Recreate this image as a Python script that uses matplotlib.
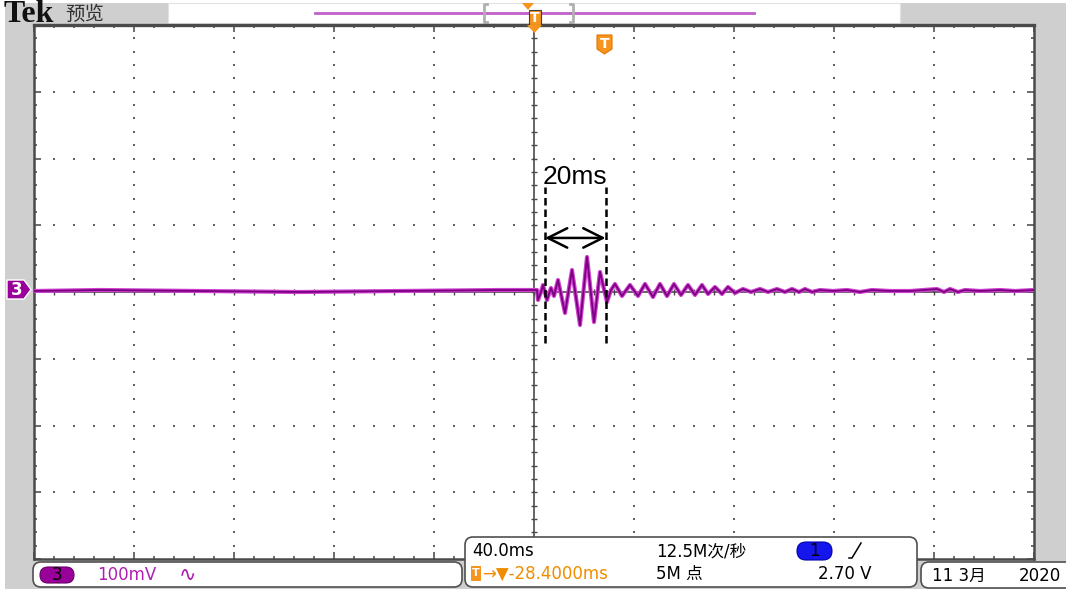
import matplotlib

matplotlib.use('Agg')
import matplotlib.pyplot as plt
from matplotlib.patches import Rectangle, FancyBboxPatch, Polygon
import numpy as np

# Scope settings: 40 ms/div, 100 mV/div, 10 x 8 divisions
time_per_div = 40.0
volt_per_div = 100.0

# Channel 3 trace (ms, mV)
trace_t = [-200, -173.6, -133.6, -93.6, -53.6, -13.6, -1.6, 1.2,
           1.6, 2.8, 3.6, 5.2, 6.8, 8.0, 9.6, 12.4, 15.2, 18.4, 21.2, 24.0,
           26.4, 29.2, 30.8, 32.4, 35.2, 38.4, 41.6, 44.4, 47.6, 50.4, 53.2,
           56.0, 58.8, 61.6, 64.4, 67.2, 69.6, 72.4, 75.2, 77.6, 80.4, 83.6,
           86.8, 90.4, 93.6, 97.2, 100.4, 103.2, 106.0, 108.4, 111.2, 114.4,
           119.6, 125.2, 130.4, 135.2, 142.4, 150.4, 161.2, 164.0, 166.4,
           169.6, 172.4, 178.4, 186.4, 192.4, 200]
trace_v = [1.5, 3.0, 1.5, 0.0, 1.5, 3.0, 3.0, 3.0,
           -12, 0, 10.5, -12, 6, -6, 18, -31.5, 33, -49.5, 52.5, -45,
           30, -15, 3, 12, -6, 10.5, -6, 12, -7.5, 12, -6,
           12, -4.5, 10.5, -4.5, 10.5, -3, 7.5, -3, 7.5, -1.5, 4.5,
           0, 4.5, 0, 4.5, 0, 4.5, 0, 4.5, 0, 3,
           1.5, 3, 0, 3, 1.5, 1.5, 4.5, 0, 4.5,
           0, 3, 1.5, 3, 1.5, 3]

# Hand-drawn measurement marks (ms, mV)
mark_t = [4.4, 28.6]
mark_v = [-76.5, 157.5]
arrow_v = 81
mark_label = '20ms'

# Readout texts
ch_label = '3'
ch_scale = '100mV'
time_scale = '40.0ms'
sample_rate = '12.5M次/秒'
trig_src = '1'
trig_pos = '→▼-28.4000ms'
rec_len = '5M 点'
trig_level = '2.70 V'
date_day = '11 3月'
date_year = '2020'

W, H = 1066, 589
fig = plt.figure(figsize=(W / 100, H / 100), dpi=100)

CJK = ['DejaVu Sans', 'Noto Sans CJK SC']
ORANGE = '#f7941d'
PURPLE = '#990099'
FS = 12

# ---- background chrome (pixel coordinates) ----
bg = fig.add_axes([0, 0, 1, 1], zorder=0)
bg.set_xlim(0, W)
bg.set_ylim(H, 0)
bg.axis('off')
bg.add_patch(Rectangle((5, 3), W - 5, H - 3, fc='#cfcfcf', ec='none'))
bg.add_patch(Rectangle((168, 3), 732, 20, fc='white', ec='#e2e2e2', lw=0.8))
bg.plot([315, 754], [12.5, 12.5], color='#c060c8', lw=2)
bg.plot([487, 484, 484, 487], [4, 4, 22, 22], color='#b0b0b0', lw=2)
bg.plot([570, 573, 573, 570], [4, 4, 22, 22], color='#b0b0b0', lw=2)
bg.text(4, 14, 'Tek', fontsize=23, fontweight='bold', family='Liberation Serif',
        va='center', ha='left', color='#111111')
bg.text(65, 14.5, '预览', fontsize=14, family='Noto Sans CJK SC',
        va='center', ha='left', color='#333333')

# ---- scope graticule ----
ax = fig.add_axes([34 / W, (H - 559) / H, 1000 / W, 534 / H], zorder=1)
xmax = 5 * time_per_div
ymax = 4 * volt_per_div
ax.set_xlim(-xmax, xmax)
ax.set_ylim(-ymax, ymax)
ax.set_facecolor('white')

xmaj = np.arange(-xmax, xmax + 1, time_per_div)
xmin = np.arange(-xmax, xmax + 1, time_per_div / 5)
ymaj = np.arange(-ymax, ymax + 1, volt_per_div)
ymin = np.arange(-ymax, ymax + 1, volt_per_div / 5)
ax.set_xticks(xmaj)
ax.set_xticks(xmin, minor=True)
ax.set_yticks(ymaj)
ax.set_yticks(ymin, minor=True)
ax.tick_params(which='both', direction='in', top=True, right=True,
               labelbottom=False, labelleft=False, color='#606060', width=1.3)
ax.tick_params(which='major', length=5)
ax.tick_params(which='minor', length=2.5)
for side, s in ax.spines.items():
    s.set_color('#4a4a4a')
    s.set_linewidth(2.4 if side == 'top' else 1.8)

# dotted grid lines
for x in xmaj[1:-1]:
    if x != 0:
        ax.scatter(np.full(len(ymin), x), ymin, marker='s', s=1.8,
                   color='#606060', lw=0, zorder=1)
for y in ymaj[1:-1]:
    if y != 0:
        ax.scatter(xmin, np.full(len(xmin), y), marker='s', s=1.8,
                   color='#606060', lw=0, zorder=1)

# center cross with minor ticks
ax.axhline(0, color='#4a4a4a', lw=1.2, zorder=2)
ax.axvline(0, color='#4a4a4a', lw=1.2, zorder=2)
ax.scatter(xmin, np.zeros(len(xmin)), marker='|', s=18, color='#4a4a4a',
           lw=1, zorder=2)
ax.scatter(np.zeros(len(ymin)), ymin, marker='_', s=18, color='#4a4a4a',
           lw=1, zorder=2)

# waveform
ax.plot(trace_t, trace_v, color='#d040d0', lw=3.0, zorder=3,
        solid_joinstyle='round')
ax.plot(trace_t, trace_v, color='#7a0080', lw=1.3, zorder=4,
        solid_joinstyle='round')

# measurement marks
for t in mark_t:
    ax.plot([t, t], mark_v, color='black', lw=1.8, dashes=(3, 1.6), zorder=5)
ax.annotate('', xy=(mark_t[0], arrow_v), xytext=(mark_t[1], arrow_v),
            arrowprops=dict(arrowstyle='<->,head_length=0.7,head_width=0.35',
                            lw=1.8, color='black', shrinkA=0, shrinkB=0,
                            mutation_scale=20), zorder=5)
ax.text(sum(mark_t) / 2, 172, mark_label, ha='center', va='center',
        fontsize=19, family='Liberation Sans', zorder=5)

# ---- foreground readouts (pixel coordinates) ----
fg = fig.add_axes([0, 0, 1, 1], zorder=3)
fg.set_xlim(0, W)
fg.set_ylim(H, 0)
fg.axis('off')
fg.patch.set_alpha(0)

# trigger markers
fg.add_patch(Polygon([(522, 3), (534, 3), (528, 10)], fc=ORANGE, ec='none'))
fg.add_patch(Rectangle((528.5, 9.5), 12, 15, fc=ORANGE, ec='#404040', lw=0.8))
fg.text(534.5, 17.5, 'T', color='white', fontsize=10, fontweight='bold',
        ha='center', va='center')
fg.add_patch(Polygon([(527, 25), (542, 25), (534.5, 33)], fc=ORANGE, ec='none'))
fg.add_patch(Polygon([(597, 35), (612, 35), (612, 49), (604.5, 54), (597, 49)],
                     fc=ORANGE, ec='#e07800', lw=0.8))
fg.text(604.5, 43.5, 'T', color='white', fontsize=10, fontweight='bold',
        ha='center', va='center')

# channel marker on the left
fg.add_patch(Polygon([(7, 280), (24, 280), (31, 289.5), (24, 299), (7, 299)],
                     fc=PURPLE, ec='white', lw=1))
fg.text(16.5, 290, ch_label, color='white', fontsize=12, fontweight='bold',
        ha='center', va='center')

# bottom readout boxes
box_kw = dict(boxstyle='round,pad=0,rounding_size=8', fc='white',
              ec='#505050', lw=1.2)
fg.add_patch(FancyBboxPatch((33, 562), 429, 25, **box_kw))
fg.add_patch(FancyBboxPatch((465, 537), 452, 50, **box_kw))
fg.add_patch(FancyBboxPatch((921, 562), 170, 26, **box_kw))

fg.add_patch(FancyBboxPatch((40, 567), 34, 16, boxstyle='round,pad=0,rounding_size=8',
                            fc=PURPLE, ec='#660066', lw=0.8))
fg.text(57, 575.5, ch_label, fontsize=FS, ha='center', va='center', color='black')
fg.text(97, 575.5, ch_scale, fontsize=FS, ha='left', va='center', color='#b020b0')
fg.text(179, 575, '∿', fontsize=15, ha='left', va='center', color='#b020b0',
        family=['DejaVu Sans', 'DejaVu Sans Mono', 'Noto Sans CJK SC'])

fg.text(472, 551, time_scale, fontsize=FS, ha='left', va='center', color='black')
fg.text(656, 551, sample_rate, fontsize=FS, ha='left', va='center', color='black',
        family=CJK)
fg.add_patch(FancyBboxPatch((797, 542), 35, 18, boxstyle='round,pad=0,rounding_size=9',
                            fc='#1515ee', ec='#0000aa', lw=0.8))
fg.text(814.5, 551.5, trig_src, fontsize=FS, ha='center', va='center', color='black')
fg.plot([849, 852, 861], [558, 558, 543], color='black', lw=1.1)

fg.add_patch(Rectangle((471, 566), 10, 15, fc=ORANGE, ec='none'))
fg.text(476, 573.5, 'T', fontsize=8, fontweight='bold', ha='center', va='center',
        color='white')
fg.text(482, 574, trig_pos, fontsize=FS, ha='left', va='center', color='#f08c00')
fg.text(656, 574, rec_len, fontsize=FS, ha='left', va='center', color='black',
        family=CJK)
fg.text(818, 574, trig_level, fontsize=FS, ha='left', va='center', color='black')

fg.text(932, 576, date_day, fontsize=FS, ha='left', va='center', color='black',
        family=CJK)
fg.text(1019, 576, date_year, fontsize=FS, ha='left', va='center', color='black')

fig.savefig('out.png', dpi=100)
